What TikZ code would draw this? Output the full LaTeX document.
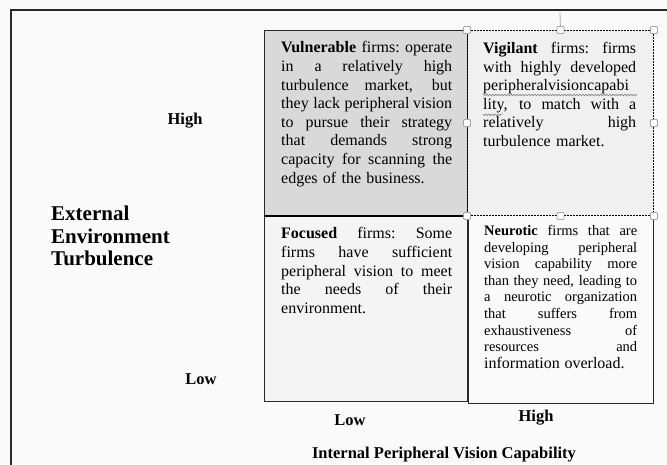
\documentclass[tikz,border=0pt]{standalone}
\usepackage{fontspec}
\setmainfont{Liberation Serif}
\usetikzlibrary{positioning,decorations.pathmorphing}
\definecolor{mydark}{RGB}{40,40,40}
\definecolor{mygray}{RGB}{217,217,217}
\definecolor{mylight}{RGB}{240,240,240}
\definecolor{mypale}{RGB}{244,244,244}
\definecolor{mypaper}{RGB}{250,250,250}
\newlength\qw
\newcommand\fitline[1]{\hbox to\qw{\spaceskip=.25em plus 1fil minus .1em
  \xspaceskip=\spaceskip #1}\par}
\hbadness=10000

\begin{document}
\begin{tikzpicture}[x=1pt,y=-1pt,
  quad/.style={draw=mydark,line width=1pt,rectangle,inner sep=0pt,anchor=north west},
  qtext/.style={anchor=north west,inner sep=0pt,text width=\qw,
    font=\fontsize{16}{18.6}\selectfont},
  axlabel/.style={font=\fontsize{16.5}{20}\selectfont\bfseries},
  handle/.style={draw=gray!70,fill=white,rounded corners=1pt,
    minimum size=7pt,inner sep=0pt,line width=0.8pt}]

  \useasboundingbox (0,0) rectangle (667,464);
  \fill[mypaper] (0,0) rectangle (667,464);
  \draw[line width=2pt,mydark] (11,465) -- (11,10) -- (668,10);

  % the four quadrants
  \node[quad,fill=mygray,minimum width=203pt,minimum height=185pt] (vuln) at (264,30) {};
  \node[quad,fill=mypale,minimum width=203pt,minimum height=186pt] (focus) at (264,215) {};
  \node[quad,fill=mypaper,minimum width=185pt,minimum height=188pt] (neuro) at (468,215) {};
  \node[quad,draw=black,fill=mylight,dash pattern=on 2pt off 1pt,minimum width=186pt,
    minimum height=185pt] (vigil) at (467,30) {};
  \draw[line width=2pt,black] (vuln.south west) -- (vuln.south east);

  % texts in the quadrants
  \setlength\qw{171pt}
  \node[qtext,below right=11.5pt and 17pt of vuln.north west] (vulntxt) {%
    \fitline{\textbf{Vulnerable} firms: operate}
    \fitline{in a relatively high}
    \fitline{turbulence market, but}
    \fitline{they lack peripheral\kern-1pt\ vision}
    \fitline{to pursue their strategy}
    \fitline{that demands strong}
    \fitline{capacity for scanning the}
    edges of the business.};

  \node[qtext,below right=12.5pt and 17pt of focus.north west] (focustxt) {%
    \fitline{\textbf{Focused} firms: Some}
    \fitline{firms have sufficient}
    \fitline{peripheral vision to meet}
    \fitline{the needs of their}
    environment.};

  \setlength\qw{153pt}
  \node[qtext,below right=12pt and 16pt of vigil.north west] (vigiltxt) {%
    \fitline{\textbf{Vigilant} firms: firms}
    \fitline{with highly developed}
    \fitline{peripheralvisioncapabi}
    \fitline{lity, to match with a}
    \fitline{relatively high}
    turbulence market.};

  \node[qtext,font=\fontsize{14.5}{16.6}\selectfont,
    below right=10pt and 16pt of neuro.north west] (neurotxt) {%
    \fitline{\textbf{Neurotic} firms that are}
    \fitline{developing peripheral}
    \fitline{vision capability more}
    \fitline{than they need, leading to}
    \fitline{a neurotic organization}
    \fitline{that suffers from}
    \fitline{exhaustiveness of}
    \fitline{resources and}
    \fontsize{16}{20}\selectfont information overload.};

  % spelling marks
  \draw[gray,line width=0.6pt,decorate,decoration={snake,amplitude=0.8pt,segment length=3pt}]
    (483,95) -- (636,95) (483,114) -- (503,114);

  % axis labels
  \node[axlabel] (yhigh) at (185,121) {High};
  \node[axlabel] (ylow) at (201,379) {Low};
  \node[axlabel] (xlow) at (350,420) {Low};
  \node[axlabel] (xhigh) at (536,418) {High};
  \node[axlabel] (xtitle) at (444,455) {Internal Peripheral Vision Capability};
  \node[anchor=west,align=left,inner sep=0pt,font=\fontsize{21}{22.5}\selectfont\bfseries]
    (ytitle) at (51,236) {External\\Environment\\Turbulence};

  % selection handles
  \coordinate (rot) at (560,13);
  \draw[gray!70,line width=0.8pt] (vigil.north) -- (rot);
  \foreach \a [count=\i] in {north west,north,north east,east,south east,south,south west,west}
    \node[handle] (hdl\i) at (vigil.\a) {};

\end{tikzpicture}
\end{document}
